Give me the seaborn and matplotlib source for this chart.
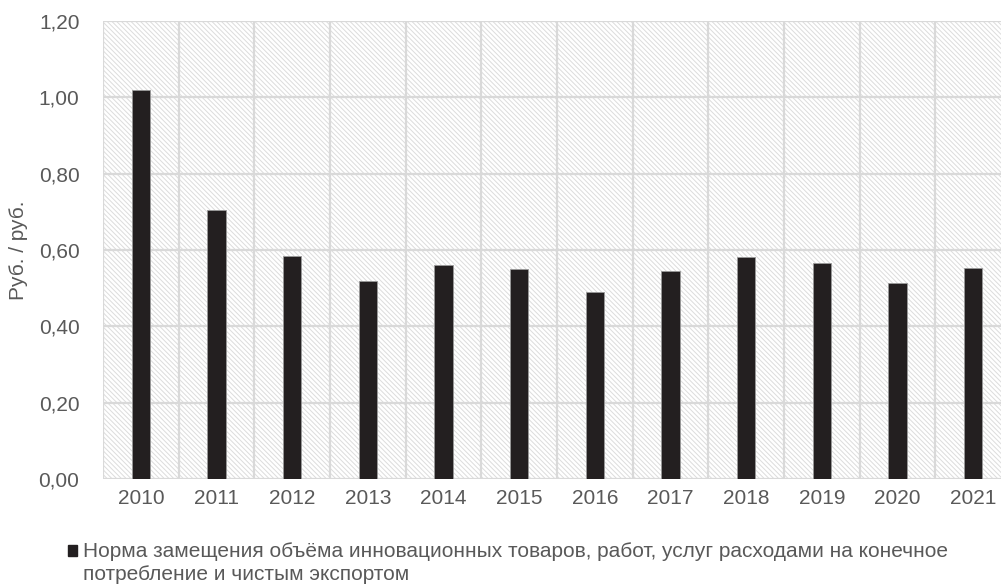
import matplotlib
matplotlib.use("Agg")
import matplotlib.pyplot as plt
import seaborn as sns
import pandas as pd
from matplotlib.patches import Rectangle, Patch
from matplotlib.legend_handler import HandlerPatch

years = ["2010", "2011", "2012", "2013", "2014", "2015", "2016", "2017", "2018", "2019", "2020", "2021"]
values = [1.02, 0.705, 0.585, 0.52, 0.56, 0.55, 0.489, 0.546, 0.582, 0.565, 0.514, 0.554]
yticks = [0.0, 0.2, 0.4, 0.6, 0.8, 1.0, 1.2]
ylabels = ["0,00", "0,20", "0,40", "0,60", "0,80", "1,00", "1,20"]
series_label = ("Норма замещения объёма инновационных товаров, работ, услуг расходами на конечное\n"
                "потребление и чистым экспортом")

sns.set_theme(style="white")
plt.rcParams["font.family"] = ["Liberation Sans", "DejaVu Sans"]
plt.rcParams["hatch.linewidth"] = 0.7

df = pd.DataFrame({"year": years, "value": values})

fig = plt.figure(figsize=(10.01, 5.85), dpi=100)
ax = fig.add_axes([0.1029, 0.181, 0.9071, 0.783])

grid_c = "#d9d9d9"
text_c = "#595959"
fs = 15

# hatched background
bg = Rectangle((0, 0), 1, 1, transform=ax.transAxes, facecolor="white",
               edgecolor="#dcdcdc", hatch="\\\\\\\\\\\\\\", linewidth=0, zorder=0)
ax.add_patch(bg)

sns.barplot(data=df, x="year", y="value", color="#231f20", width=0.24,
            edgecolor="#9a9a9a", linewidth=0.6, ax=ax, zorder=3, saturation=1)

ax.set_xlim(-0.5, len(years) - 0.5)
ax.set_ylim(0, 1.2)
ax.set_yticks(yticks)
ax.set_yticklabels(ylabels)

for yv in yticks:
    ax.axhline(yv, color=grid_c, linewidth=1.6, zorder=1)
for i in range(len(years) + 1):
    ax.axvline(i - 0.5, color=grid_c, linewidth=1.6, zorder=1)

for s in ax.spines.values():
    s.set_visible(False)

ax.tick_params(axis="both", length=0, labelsize=fs, colors=text_c)
ax.tick_params(axis="x", pad=7)
ax.tick_params(axis="y", pad=17)
ax.set_xlabel("")
ax.set_ylabel("Руб. / руб.", fontsize=fs, color=text_c)
ax.yaxis.set_label_coords(-0.083, 0.5)


class TopSquare(HandlerPatch):
    def create_artists(self, legend, orig_handle, xdescent, ydescent,
                       width, height, fontsize, trans):
        p = Rectangle((-xdescent, -ydescent + 9.5), width, height,
                      facecolor="#231f20", edgecolor="#231f20", transform=trans)
        return [p]


handle = Patch(facecolor="#231f20", edgecolor="#231f20")
leg = fig.legend([handle], [series_label], loc="upper left", bbox_to_anchor=(0.06, 0.087),
                 frameon=False, fontsize=fs, labelcolor=text_c, handlelength=0.42,
                 handleheight=0.42, handletextpad=0.3, borderaxespad=0,
                 handler_map={Patch: TopSquare()})
for t in leg.get_texts():
    t.set_linespacing(1.25)

fig.savefig("out.png", dpi=100)
